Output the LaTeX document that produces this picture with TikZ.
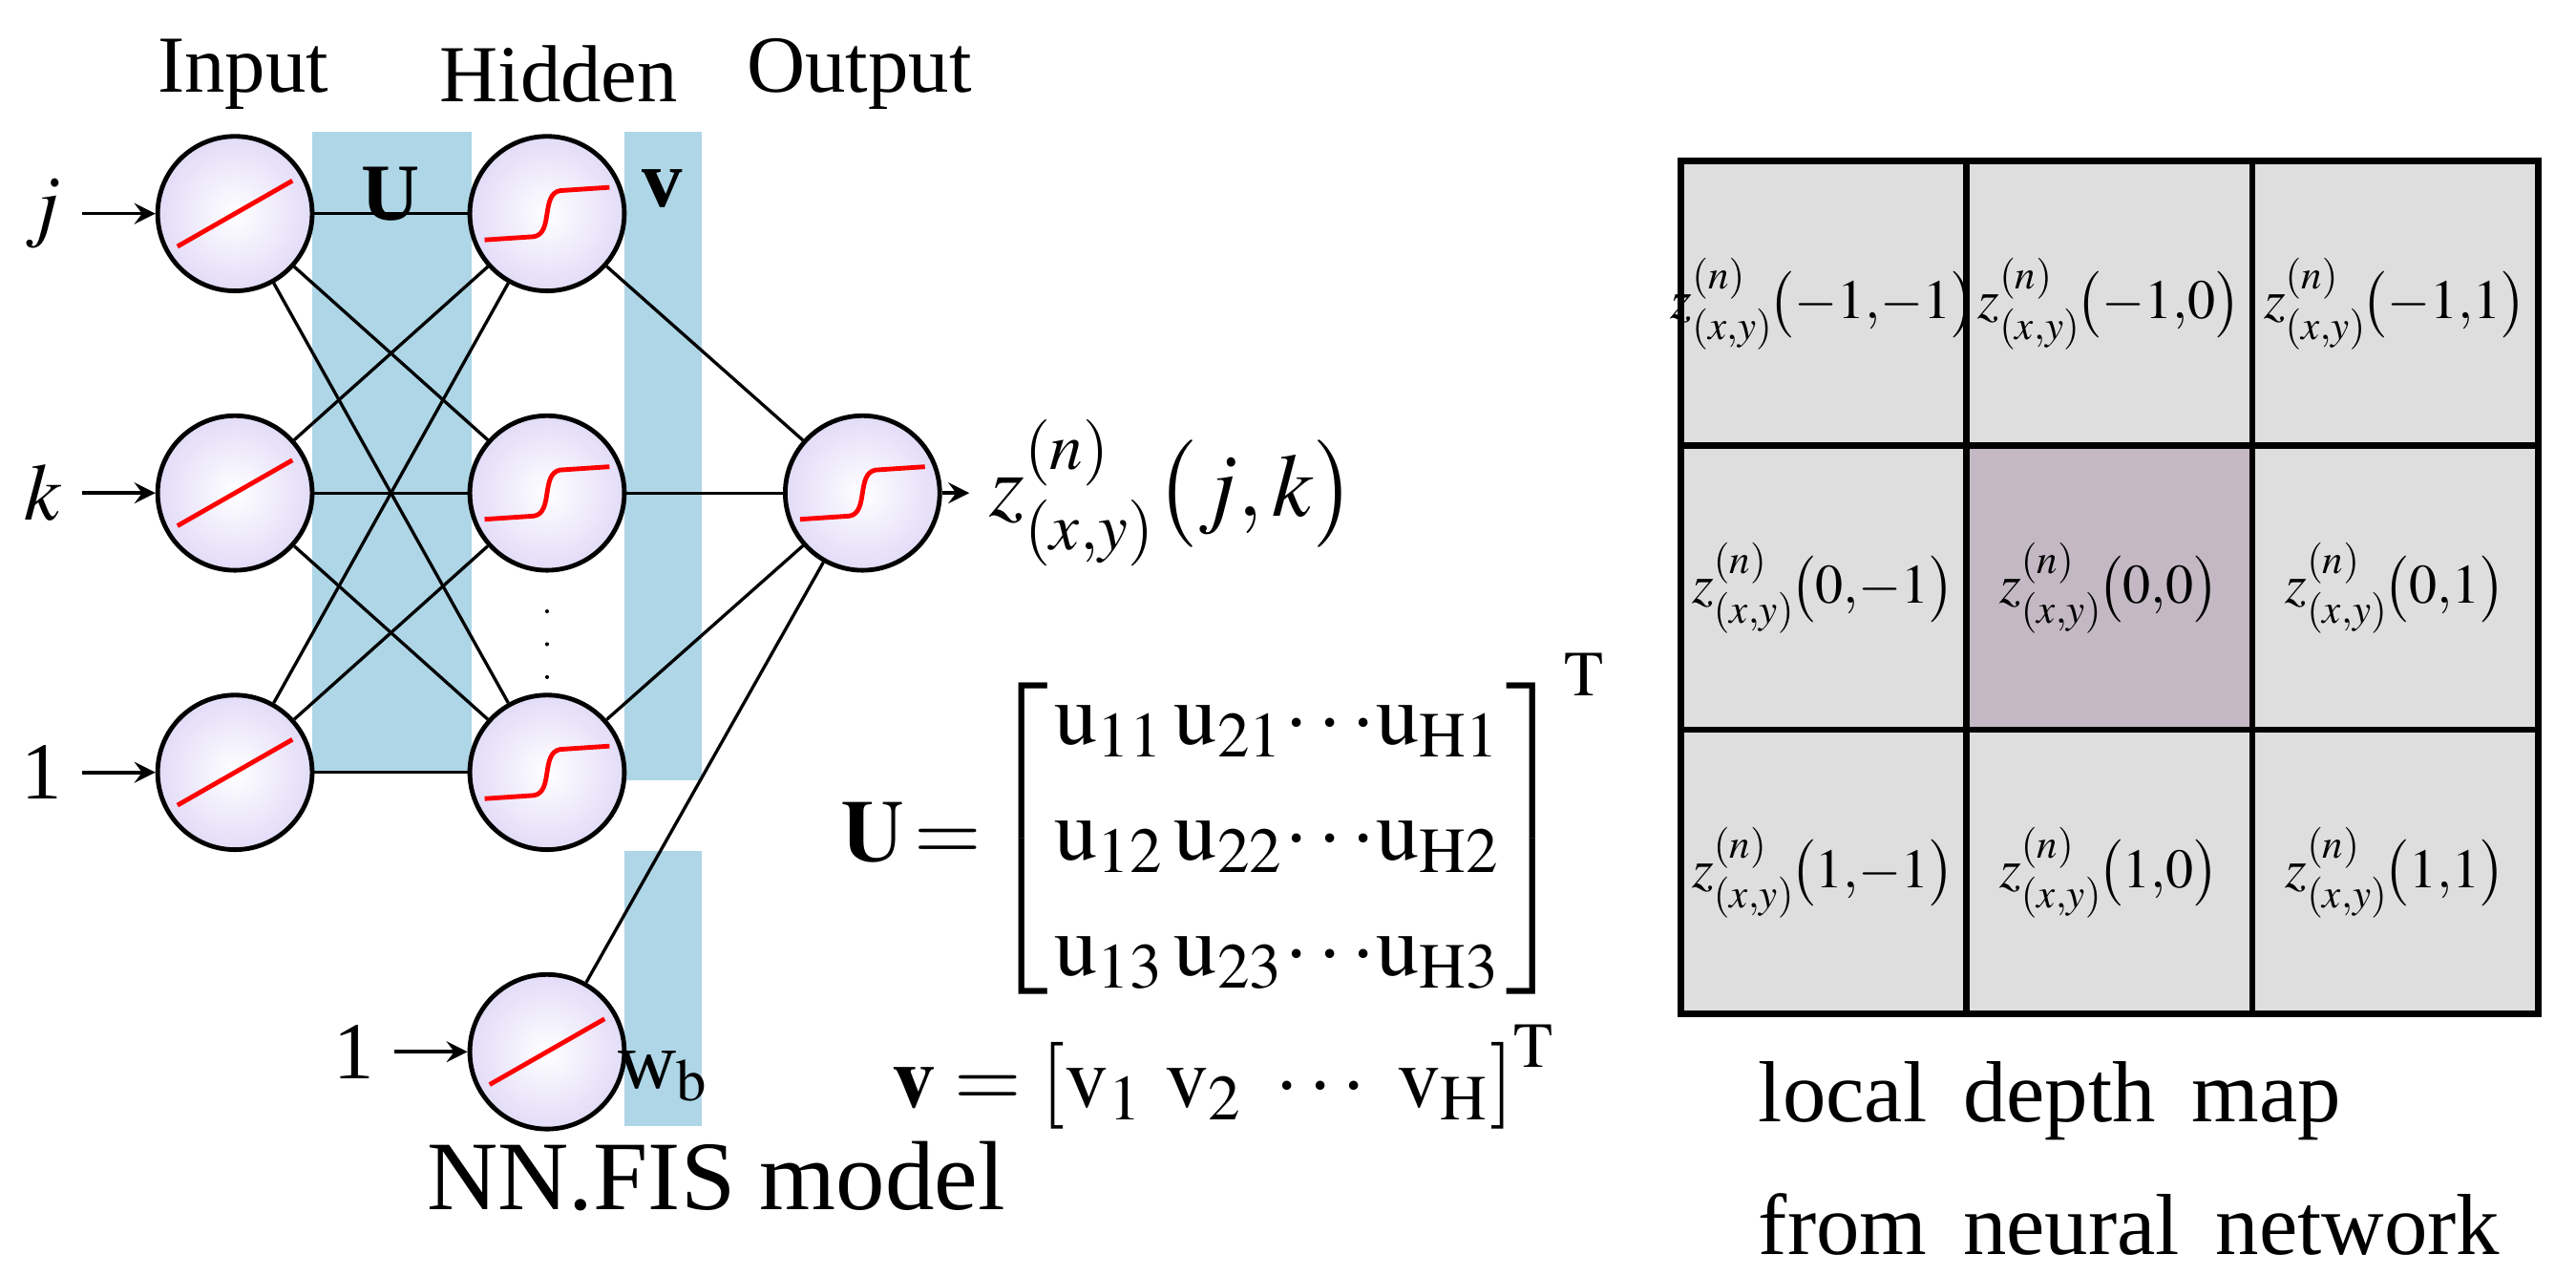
\documentclass[tikz,border=0pt]{standalone}
\usepackage{mathptmx}
\usepackage{fontspec}
\setmainfont{Liberation Serif}
\usetikzlibrary{calc}
\begin{document}
\begin{tikzpicture}[x=0.01cm,y=-0.01cm,
 neu/.style={circle,draw,line width=0.8pt,minimum size=0.94cm,inner sep=0pt,inner color=white,outer color=violet!40!blue!14},
 band/.style={fill=cyan!45!teal!35!white,draw=none},
 lnk/.style={line width=0.55pt},
 arr/.style={line width=0.6pt,->,>=stealth},
 lbl/.style={font=\fontsize{14}{16}\selectfont},
 big/.style={font=\fontsize{15}{18}\selectfont},
 sig/.style={red,line width=0.8pt},
 grid/.style={draw,line width=1.1pt,fill=black!13},
 cell/.style={inner sep=0pt,font=\fontsize{9.6}{11}\selectfont}]
\useasboundingbox (0,0) rectangle (1568,776);
\fill[band] (190,80) rectangle (287,470);
\fill[band] (380,80) rectangle (427,475);
\fill[band] (380,518) rectangle (427,685);
\foreach \n/\y in {i1/130,i2/300,i3/470}{\node[neu] (\n) at (143,\y) {};
 \draw[sig] ($(\n)+(-35,20)$) -- ($(\n)+(35,-20)$);}
\foreach \n/\y in {h1/130,h2/300,h3/470}{\node[neu] (\n) at (333,\y) {};
 \draw[sig] ($(\n)+(-38,16)$) -- ($(\n)+(-8,14)$) .. controls ($(\n)+(4,12)$) and ($(\n)+(-4,-12)$) .. ($(\n)+(8,-14)$) -- ($(\n)+(38,-16)$);}
\node[neu] (hb) at (333,640) {};
\draw[sig] ($(hb)+(-35,20)$) -- ($(hb)+(35,-20)$);
\node[neu] (o) at (525,300) {};
\draw[sig] ($(o)+(-38,16)$) -- ($(o)+(-8,14)$) .. controls ($(o)+(4,12)$) and ($(o)+(-4,-12)$) .. ($(o)+(8,-14)$) -- ($(o)+(38,-16)$);
\foreach \a in {i1,i2,i3}\foreach \b in {h1,h2,h3}\draw[lnk] (\a) -- (\b);
\foreach \b in {h1,h2,h3,hb}\draw[lnk] (\b) -- (o);
\node[lbl] (tin) at (148,45) {Input};
\node[lbl] (thid) at (340,45) {Hidden};
\node[lbl] (tout) at (523,45) {Output};
\node[lbl,font=\bfseries\fontsize{14}{16}\selectfont] (tU) at (238,118) {U};
\node[lbl,font=\bfseries\fontsize{14}{16}\selectfont] (tv) at (403,115) {v};
\node[lbl] (twb) at (404,655) {w$_\mathrm{b}$};
\node[lbl,anchor=east] (lj) at (50,130) {$j$};
\node[lbl,anchor=east] (lk) at (50,300) {$k$};
\node[lbl,anchor=east] (l1) at (50,470) {1};
\node[lbl,anchor=east] (l1b) at (240,640) {1};
\draw[arr] (lj) -- (i1); \draw[arr] (lk) -- (i2); \draw[arr] (l1) -- (i3); \draw[arr] (l1b) -- (hb);
\node[big,font=\fontsize{15.5}{18}\selectfont,anchor=west] (z) at (590,300) {$z^{(n)}_{(x,y)}\bigl(j,k\bigr)$};
\draw[arr] (o) -- (z);
\foreach \y in {372,392,412}\fill (333,\y) circle (1.2);
\node[big] (mU) at (745,505) {$\mathbf{U}\!=\!\left[\setlength{\arraycolsep}{1pt}\begin{array}{l}\mathrm{u}_{11}\,\mathrm{u}_{21}\!\cdots\!\mathrm{u}_{\mathrm{H}1}\\[2pt]\mathrm{u}_{12}\,\mathrm{u}_{22}\!\cdots\!\mathrm{u}_{\mathrm{H}2}\\[2pt]\mathrm{u}_{13}\,\mathrm{u}_{23}\!\cdots\!\mathrm{u}_{\mathrm{H}3}\end{array}\right]^{\mathrm{T}}$};
\node[big] (mv) at (745,655) {$\mathbf{v}=\left[\mathrm{v}_1\ \mathrm{v}_2\ \cdots\ \mathrm{v}_\mathrm{H}\right]^{\mathrm{T}}$};
\node[big,font=\fontsize{17}{20}\selectfont] (cap) at (436,716) {NN.FIS model};
\foreach \r in {0,1,2}\foreach \c in {0,1,2}
 \path[grid] ({1023+174*\c},{98+173*\r}) rectangle ++(174,173);
\path[grid,fill=violet!35!black!28] (1197,271) rectangle ++(174,173);
\foreach \r/\yy in {0/{-}1,1/0,2/1}\foreach \c/\xx in {0/{-}1,1/0,2/1}{
 \node[cell] (c\r\c) at ({1110+174*\c},{185+173*\r}) {$z^{(n)}_{(x,y)}\!\bigl(\yy{,}\xx\bigr)$};}
\node[lbl,anchor=west,font=\fontsize{15}{18}\selectfont] (t1) at (1058,670) {local\, depth\, map};
\node[lbl,anchor=west,font=\fontsize{15}{18}\selectfont] (t2) at (1058,745) {from\, neural\, network};
\end{tikzpicture}
\end{document}
